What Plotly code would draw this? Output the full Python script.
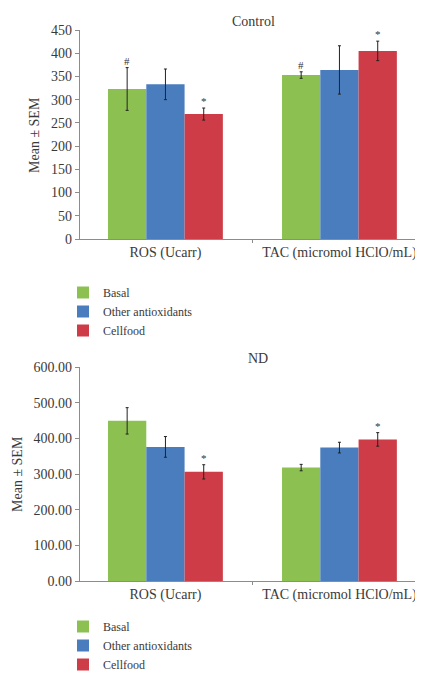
import plotly.graph_objects as go

categories = ["ROS (Ucarr)", "TAC (micromol HClO/mL)"]
series_names = ["Basal", "Other antioxidants", "Cellfood"]
colors = ["#8CC152", "#4A7DBE", "#CE3D47"]

# Control panel
control_values = {
    "Basal": [323, 353],
    "Other antioxidants": [333, 364],
    "Cellfood": [269, 405],
}
control_err = {
    "Basal": [46, 7],
    "Other antioxidants": [33, 52],
    "Cellfood": [13, 21],
}
control_marks = {
    "Basal": ["#", "#"],
    "Other antioxidants": ["", ""],
    "Cellfood": ["*", "*"],
}
control_ticks = [0, 50, 100, 150, 200, 250, 300, 350, 400, 450]

# ND panel
nd_values = {
    "Basal": [449, 318],
    "Other antioxidants": [376, 374],
    "Cellfood": [306, 397],
}
nd_err = {
    "Basal": [37, 9],
    "Other antioxidants": [29, 15],
    "Cellfood": [20, 19],
}
nd_marks = {
    "Basal": ["", ""],
    "Other antioxidants": ["", ""],
    "Cellfood": ["*", "*"],
}
nd_ticks = [0, 100, 200, 300, 400, 500, 600]

# page has an 8px body margin: figure placed at (8, 8)
OFF = 8
W, H = 415, 666
def px(x):  # page pixel -> paper x
    return (x - OFF) / W
def py(y):  # page pixel -> paper y
    return 1 - (y - OFF) / H

FONT = "Liberation Serif, Times New Roman, serif"
TXT = "#3a3a3a"
BARGAP = 0.34
XRANGE = [-0.491, 1.463]

fig = go.Figure()

def add_panel(values, errs, xa, ya, legend):
    for name, col in zip(series_names, colors):
        fig.add_trace(go.Bar(
            x=categories, y=values[name], name=name,
            marker=dict(color=col, line=dict(width=0)),
            error_y=dict(type="data", array=errs[name], color="#222222",
                         thickness=1, width=1.5),
            xaxis=xa, yaxis=ya, legend=legend,
            offsetgroup=name,
        ))

add_panel(control_values, control_err, "x", "y", "legend")
add_panel(nd_values, nd_err, "x2", "y2", "legend2")

# significance marks above error bars
bar_w = (1 - BARGAP) / len(series_names)
offsets = {"Basal": -1, "Other antioxidants": 0, "Cellfood": 1}
def add_marks(values, errs, marks, xref, yref):
    for name in series_names:
        for i, cat in enumerate(categories):
            m = marks[name][i]
            if m:
                fig.add_annotation(
                    x=i + offsets[name] * bar_w, y=values[name][i] + errs[name][i],
                    xref=xref, yref=yref, text=m, showarrow=False,
                    xanchor="center", yanchor="bottom", yshift=-1,
                    font=dict(family=FONT, size=11, color="#333333"),
                )

add_marks(control_values, control_err, control_marks, "x", "y")
add_marks(nd_values, nd_err, nd_marks, "x2", "y2")

xdom = [px(80), px(420)]
top_dom = [py(239), py(30)]
bot_dom = [py(581), py(367)]

axis_common = dict(showline=True, linecolor="#8c8c8c", linewidth=1.2,
                   showgrid=False, zeroline=False, automargin=False,
                   tickfont=dict(family=FONT, size=14, color=TXT))

legend_font = dict(family=FONT, size=12, color=TXT)

fig.update_layout(
    width=W, height=H,
    margin=dict(l=0, r=0, t=0, b=0, autoexpand=False),
    paper_bgcolor="white", plot_bgcolor="white",
    barmode="group", bargap=BARGAP, bargroupgap=0,
    font=dict(family=FONT, size=14, color=TXT),
    xaxis=dict(domain=xdom, anchor="y", range=XRANGE, ticks="outside",
               tickson="boundaries", ticklen=3, tickcolor="#8c8c8c", **axis_common),
    yaxis=dict(domain=top_dom, anchor="x", range=[0, 450], tickvals=control_ticks,
               ticks="outside", ticklen=4, tickcolor="#8c8c8c", **axis_common),
    xaxis2=dict(domain=xdom, anchor="y2", range=XRANGE, ticks="outside",
                tickson="boundaries", ticklen=3, tickcolor="#8c8c8c", **axis_common),
    yaxis2=dict(domain=bot_dom, anchor="x2", range=[0, 600], tickvals=nd_ticks,
                ticktext=[f"{v:.2f}" for v in nd_ticks],
                ticks="outside", ticklen=4, tickcolor="#8c8c8c", **axis_common),
    legend=dict(x=px(63), y=py(278), xanchor="left", yanchor="top",
                font=legend_font, tracegroupgap=0, itemwidth=30,
                bgcolor="rgba(0,0,0,0)"),
    legend2=dict(x=px(63), y=py(612), xanchor="left", yanchor="top",
                 font=legend_font, tracegroupgap=0, itemwidth=30,
                 bgcolor="rgba(0,0,0,0)"),
    showlegend=True,
)

title_font = dict(family=FONT, size=14, color=TXT)
for text, x, y, ang in [("Control", 253, 22, 0), ("ND", 258, 359, 0),
                        ("Mean ± SEM", 35, 135, -90), ("Mean ± SEM", 17, 474, -90)]:
    fig.add_annotation(text=text, x=px(x), y=py(y), xref="paper", yref="paper",
                       xanchor="center", yanchor="middle", textangle=ang,
                       showarrow=False, font=title_font)

fig.write_html("out.html")
